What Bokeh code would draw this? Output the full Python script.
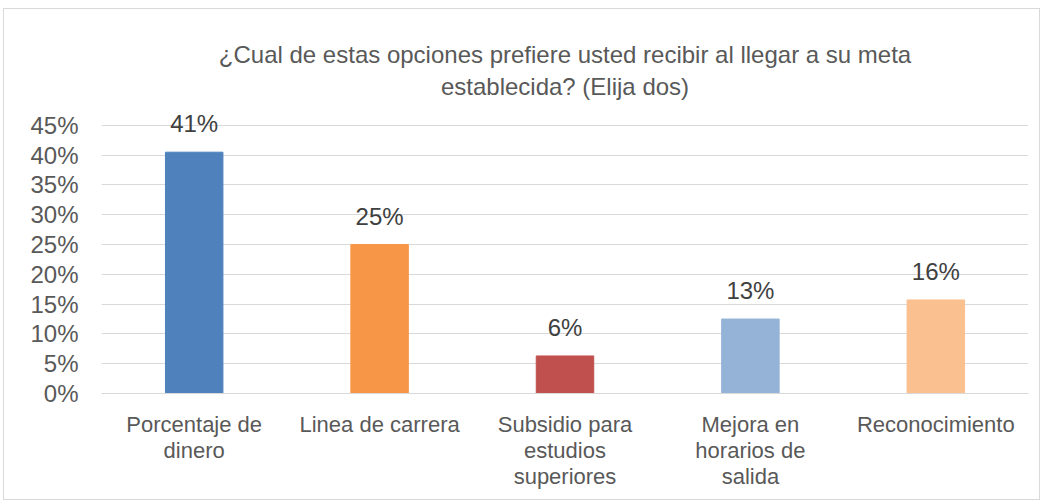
from bokeh.plotting import figure
from bokeh.models import ColumnDataSource, FactorRange, Range1d, NumeralTickFormatter, FixedTicker, Title, LabelSet
from bokeh.core.properties import value
from bokeh.embed import file_html
from bokeh.resources import INLINE

categories = ["Porcentaje de\ndinero", "Linea de carrera", "Subsidio para\nestudios\nsuperiores",
              "Mejora en\nhorarios de\nsalida", "Reconocimiento"]
values = [0.405, 0.25, 0.063, 0.125, 0.157]
labels = ["41%", "25%", "6%", "13%", "16%"]
colors = ["#4F81BD", "#F79646", "#C0504D", "#95B3D7", "#FAC090"]
yticks = [0, 0.05, 0.10, 0.15, 0.20, 0.25, 0.30, 0.35, 0.40, 0.45]
title_lines = ["¿Cual de estas opciones prefiere usted recibir al llegar a su meta",
               "establecida? (Elija dos)"]

FONT = "Liberation Sans"

src = ColumnDataSource(dict(cat=categories, val=values, lab=labels, col=colors))

p = figure(width=1037, height=492, x_range=FactorRange(*categories, range_padding=0),
           y_range=Range1d(0, 0.48), output_backend="svg", toolbar_location=None,
           min_border_left=97, min_border_right=13, min_border_bottom=108, min_border_top=98)
p.styles = {"border": "1px solid #D9D9D9", "box-sizing": "border-box", "margin": "8px 0 0 3px"}

p.vbar(x="cat", top="val", width=0.31, color="col", source=src)

p.add_layout(LabelSet(x="cat", y="val", text="lab", source=src, text_align="center",
                      text_baseline="bottom", y_offset=15, text_font_size="24px",
                      text_color="#404040", text_font=value(FONT)))

t2 = Title(text=title_lines[1], align="center", text_font_size="24px",
           text_font_style="normal", text_color="#595959", text_font=FONT, standoff=15)
t1 = Title(text=title_lines[0], align="center", text_font_size="24px",
           text_font_style="normal", text_color="#595959", text_font=FONT, standoff=-9)
p.add_layout(t2, "above")
p.add_layout(t1, "above")

p.yaxis.ticker = FixedTicker(ticks=yticks)
p.yaxis.formatter = NumeralTickFormatter(format="0%")
p.yaxis.axis_line_color = None
p.yaxis.major_tick_line_color = None
p.yaxis.minor_tick_line_color = None
p.yaxis.major_label_text_font_size = "24px"
p.yaxis.major_label_text_color = "#595959"
p.yaxis.major_label_text_font = FONT
p.yaxis.major_label_standoff = 17

p.xaxis.axis_line_color = "#D9D9D9"
p.xaxis.major_tick_line_color = None
p.xaxis.minor_tick_line_color = None
p.xaxis.major_label_text_font_size = "22px"
p.xaxis.major_label_text_color = "#595959"
p.xaxis.major_label_text_font = FONT
p.xaxis.major_label_text_line_height = 1.05
p.xaxis.major_label_standoff = 12
p.xaxis.major_label_orientation = "horizontal"
p.xaxis.major_label_text_align = "center"
p.xaxis.major_label_text_baseline = "top"

p.xgrid.grid_line_color = None
p.ygrid.grid_line_color = "#D9D9D9"
p.ygrid.ticker = FixedTicker(ticks=yticks)
p.outline_line_color = None

open("out.html", "w").write(file_html(p, INLINE))
